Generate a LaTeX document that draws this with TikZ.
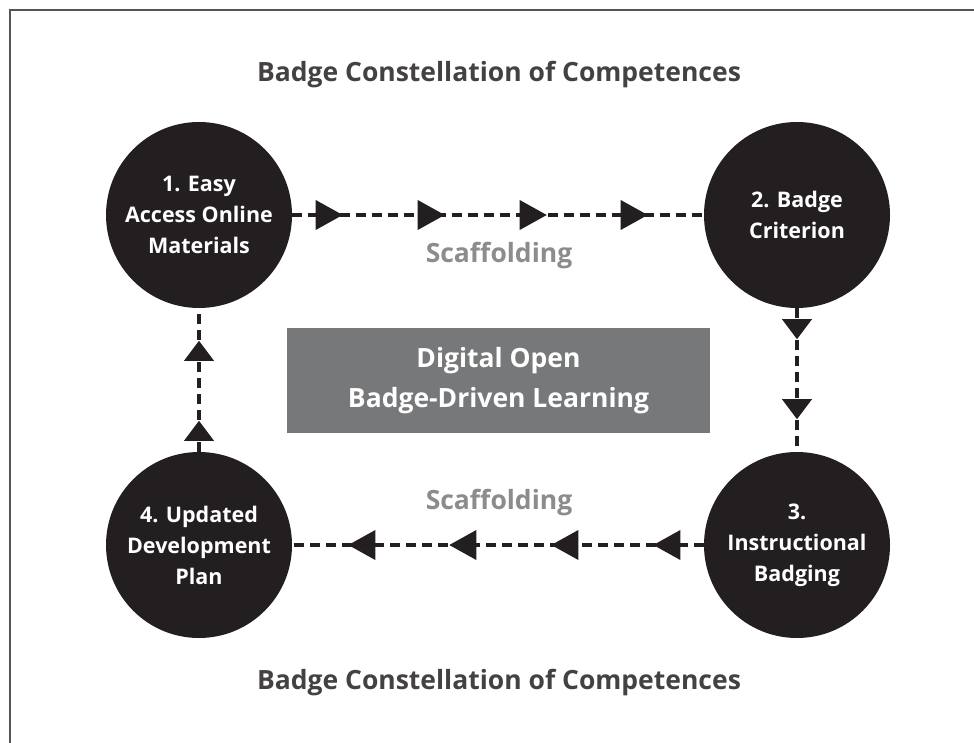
\documentclass[tikz,border=0pt]{standalone}
\usepackage{fontspec}
\setmainfont{Open Sans}
\usetikzlibrary{decorations.markings}
\definecolor{circ}{HTML}{231F20}
\definecolor{boxgray}{HTML}{77787A}
\definecolor{scaf}{HTML}{8C8C8C}
\definecolor{frame}{HTML}{555555}
\newcommand{\htriangle}{\fill[circ,solid] (-13.5pt,-15pt) -- (13.5pt,0pt) -- (-13.5pt,15pt) -- cycle;}
\newcommand{\vtriangle}{\fill[circ,solid] (-10pt,-15pt) -- (10pt,0pt) -- (-10pt,15pt) -- cycle;}
\tikzset{
  badge/.style={circle, fill=circ, minimum size=186pt, inner sep=0pt, text=white, align=center,
    font=\bfseries\fontsize{21.5}{31}\selectfont},
  flow/.style={line width=4pt, dash pattern=on 10pt off 6pt, draw=circ},
  hmarks/.style={postaction={decorate}, decoration={markings,
    mark=at position 37pt with {\htriangle},
    mark=at position 139pt with {\htriangle},
    mark=at position 241pt with {\htriangle},
    mark=at position 342pt with {\htriangle}}},
  vmarks/.style={postaction={decorate}, decoration={markings,
    mark=at position 21pt with {\vtriangle},
    mark=at position 101pt with {\vtriangle}}},
  title/.style={text=circ!85!white, font=\bfseries\fontsize{26.5}{31}\selectfont},
  scaffold/.style={text=scaf, font=\bfseries\fontsize{26.5}{31}\selectfont},
}
\begin{document}
\begin{tikzpicture}[x=1pt,y=-1pt]
\useasboundingbox (0,0) rectangle (974,743);
\draw[line width=2pt, draw=frame] (10,743) -- (10,10) -- (974,10);

\node[title] (t1) at (499,75) {Badge Constellation of Competences};
\node[title] (t2) at (499,683) {Badge Constellation of Competences};

\node[badge] (c1) at (199,215) {1. Easy\\Access Online\\Materials};
\node[badge] (c2) at (797,215) {2. Badge\\Criterion};
\node[badge] (c3) at (797,545) {3.\\Instructional\\Badging};
\node[badge] (c4) at (199,545) {4. Updated\\Development\\Plan};

\node[fill=boxgray, minimum width=423pt, minimum height=105pt, inner sep=0pt, text=white, align=center,
  font=\bfseries\fontsize{26.5}{40}\selectfont] (box) at (498.5,380.5) {Digital Open\\Badge-Driven Learning};

\node[scaffold] (s1) at (499,256) {Scaffolding};
\node[scaffold] (s2) at (499,503) {Scaffolding};

\draw[flow, hmarks] (c1.east) -- (c2.west);
\draw[flow, hmarks] (c3.west) -- (c4.east);
\draw[flow, vmarks] (c2.south) -- (c3.north);
\draw[flow, vmarks] (c4.north) -- (c1.south);
\end{tikzpicture}
\end{document}
